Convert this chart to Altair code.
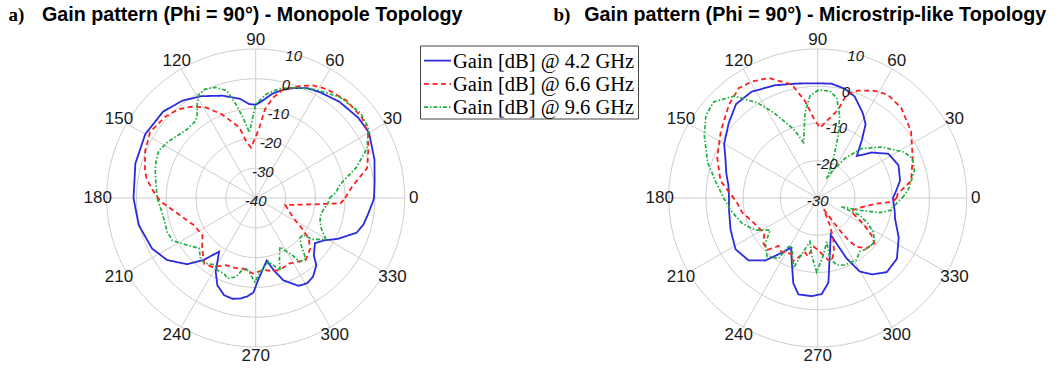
import altair as alt
import pandas as pd

# ---------------------------------------------------------------------------
# Gain patterns (Phi = 90 deg): angle in degrees, gain in dB, in tracing order
# ---------------------------------------------------------------------------
SERIES = ["Gain [dB] @ 4.2 GHz", "Gain [dB] @ 6.6 GHz", "Gain [dB] @ 9.6 GHz"]

# a) Monopole topology
MONO_42_ANG = [0, 8, 18, 30, 38, 49, 59, 65, 71, 76, 81, 86, 90, 94, 99, 108, 118, 127, 137, 150,
               164, 180, 193, 206, 215, 224, 230, 235.7, 241.6, 246.3, 252, 257, 261, 265, 268.6,
               272, 280, 283.8, 288.5, 296, 301, 306, 312, 315.4, 322.6, 328.2, 333.6, 341, 346,
               351.3, 358, 360]
MONO_42_DB = [-0.3, 0.3, 1.9, 3.9, 3.7, 2.8, 1.5, 0.7, -1.0, -2.6, -4.6, -7.3, -8.7, -8.4, -6.3,
              -3.9, -1.3, 0.9, 2.5, 2.8, 2.0, 1.0, 0.3, -1.3, -3.7, -8.0, -12.9, -18.2, -11.8, -8.0,
              -5.7, -5.3, -5.8, -6.8, -8.3, -12.8, -18.7, -15.2, -10.9, -7.2, -6.6, -7.3, -9.6,
              -12.6, -15.0, -13.0, -9.2, -4.2, -2.8, -2.0, -0.7, -0.3]

MONO_66_ANG = [0, 7, 15, 24, 30, 37, 47, 57, 63, 69, 76, 80, 84, 87, 90, 95.4, 99.7, 103, 112, 119,
               125, 131, 138, 148, 157, 165, 170, 176, 182, 192, 204, 215, 223, 232, 238, 246, 253,
               260, 268, 276, 282, 288, 297, 303, 308.5, 317, 322.6, 326.6, 331.7, 346.6, 353.8,
               356.4, 360]
MONO_66_DB = [-10, -7.3, -1.3, 1.4, 3.5, 4.7, 4.7, 3.6, 2.4, 0.2, -2.6, -5.7, -10, -16.3, -19.5,
              -23, -20.6, -15.7, -9.7, -5.2, -2.6, -0.5, 0.8, 1.8, 0.3, -1.5, -2.8, -5.5, -8,
              -13.6, -17.4, -18.2, -15.4, -12, -12.7, -15.3, -15.5, -15.9, -14.6, -15.7, -15.0,
              -14.5, -15.3, -14.5, -13.2, -15.0, -17.6, -21.4, -25.5, -29.8, -20.4, -11.5, -10]

MONO_96_ANG = [0, 4, 9, 17, 24, 32, 39, 50, 61, 70, 78, 84, 90, 91.5, 95.5, 99, 102, 105, 110, 115,
               119, 122, 126, 129, 135, 141, 147, 154, 160, 165, 172, 180, 187, 193, 201, 207,
               214.5, 221.6, 228.4, 232.6, 239, 242, 247.3, 250.7, 255.9, 261, 265, 269.5, 273.3,
               277, 281.6, 288.5, 291, 296.3, 302.7, 304.5, 309.5, 314.3, 318, 322, 324, 329.5,
               335, 340, 345, 350, 355, 360]
MONO_96_DB = [-15.2, -13, -11.4, -4.6, 0.9, 4.6, 5.3, 4.1, 1.6, -0.6, -2.5, -4.9, -8.5, -11.9,
              -17.9, -12.6, -7.8, -2.7, -0.5, 0.3, -0.5, -2.9, -6.5, -7.3, -7.4, -6.5, -5.1, -3.8,
              -4.4, -5.1, -6.2, -6.9, -8.0, -8.4, -8.2, -8.6, -12.1, -14.6, -12.2, -12.4, -13.8,
              -12.6, -12.5, -11.4, -12.7, -16.5, -15.0, -11.8, -15.1, -16.5, -18.3, -14.3, -17.8,
              -21.7, -17.2, -14.0, -13.6, -18.3, -20.0, -19.9, -16.4, -12.7, -15.7, -17.0, -17.5,
              -17.0, -15.8, -15.2]

# b) Microstrip-like topology
MICRO_42_ANG = [0, 6, 12, 22, 32, 40, 47, 52.5, 57, 62, 70, 76, 83, 90, 100, 111, 122, 131, 140,
                150, 157, 165, 172, 180, 187, 200, 212, 222, 230, 236.7, 241.8, 247, 254, 258.7,
                266.5, 272.4, 277.2, 289.5, 295.5, 299.7, 305.5, 313, 322.5, 334, 345, 350, 360]
MICRO_42_DB = [-9.8, -8.7, -7.4, -6.6, -7.6, -11, -14.6, -10.6, -6.4, -4.2, -1, 0.2, 0.9, 0.8, 1.2,
               2.4, 3.6, 3.4, 1.2, -1, -3.1, -4.6, -5.8, -6.2, -6.0, -5.1, -4, -5, -8.1, -12.4,
               -14.9, -12.1, -6.2, -3.6, -3.6, -4.2, -7.1, -19.5, -12.1, -7.3, -4.8, -2.8, -3.2,
               -5.8, -8.5, -9.0, -9.8]

MICRO_66_ANG = [0, 3, 10.4, 23, 35.6, 47.2, 55.8, 62, 69.4, 74.4, 76.9, 82.3, 88.1, 93, 97.4,
                102.8, 112.2, 119.4, 125.6, 133.5, 145.4, 158, 170, 174.4, 183.3, 191, 201.3,
                213.5, 220, 225.8, 230.8, 235.4, 245.3, 248.4, 257, 260.4, 265, 270, 279.4, 282.5,
                287, 291, 294, 298, 301, 304, 306, 308.5, 314, 321.4, 325.4, 330.6, 336, 340, 349,
                354.5, 357, 360]
MICRO_66_DB = [-8.8, -8.5, -4.5, -2.3, 0.8, 3.0, 3.5, 2.6, 0.8, -1.2, -5.6, -8.7, -11.1, -8.5,
               -3.8, 1.2, 4.8, 5.9, 6.3, 4.6, 1.6, -0.9, -3.5, -5.5, -8.3, -9.4, -11.6, -12.8, -11,
               -10.6, -13.4, -12.6, -13.4, -11.7, -15, -14.1, -16.9, -16.1, -13.2, -12.7, -15,
               -18.4, -22, -26.5, -25, -20.1, -16, -13.3, -11.2, -10.5, -12.5, -16, -19.5, -20.3,
               -17.6, -14.2, -10, -8.8]

MICRO_96_ANG = [0, 4.8, 9.8, 16, 22.5, 27.9, 38.7, 48.5, 55.5, 62, 65, 68.2, 71.7, 75, 79.3, 83.5,
                89.6, 94.3, 98.4, 104.3, 109.3, 117.3, 122.4, 129.4, 137.3, 143.6, 151, 162, 171,
                180.6, 188, 198.7, 207.3, 214.1, 220.9, 229.2, 237.1, 239.1, 242, 251, 253.3, 260,
                264, 269.2, 275.7, 281.6, 281.5, 285.8, 292, 302, 308, 315, 322.5, 328.6, 333.1,
                337.8, 339.4, 343.8, 346.7, 350.6, 357.2, 360]
MICRO_96_DB = [-7.3, -5.7, -4.6, -3.0, -2.4, -3.7, -8.1, -12.3, -17.1, -22, -24.3, -18.7, -12.4,
               -7.2, -2.6, -1.1, -1, -2.5, -6.8, -14.6, -10.4, -4.2, 0.3, 5.4, 8.0, 7.3, 4.8, 1.1,
               -2.3, -4.9, -6.4, -8.6, -11.2, -14.6, -11.4, -9.2, -10.7, -14.8, -15.2, -10.1,
               -13.6, -18.1, -14.6, -10.1, -14.6, -18, -13.5, -11.3, -10.6, -10.4, -11.7, -10.9,
               -10.7, -12.6, -14.9, -17.8, -23.2, -18.2, -12.9, -10, -8.5, -7.3]

# Axis annotations
SPOKE_ANGLES = [0, 30, 60, 90, 120, 150, 180, 210, 240, 270, 300, 330]
MONO_RINGS = [-40, -30, -20, -10, 0, 10]
MICRO_RINGS = [-30, -20, -10, 0, 10]

# Styling
COLORS = ["#2a2ae0", "#ff1e1e", "#1fae3e"]
DASHES = [[1, 0], [5, 3.5], [4, 2, 1.5, 2]]
WIDTHS = [1.8, 1.8, 1.7]
GRID = "#cdcdcd"
SANS = "Liberation Sans"
SERIF = "Liberation Serif"
R_PX = 149          # outer ring radius in pixels
H = 372


def polar(chart, rmin, rmax):
    """Map (angle, gain) to Cartesian coordinates on a unit outer ring."""
    return chart.transform_calculate(
        rn=f"(datum.gain - ({rmin})) / {rmax - rmin}",
    ).transform_calculate(
        x="datum.rn * cos(datum.angle * PI / 180)",
        y="datum.rn * sin(datum.angle * PI / 180)",
    )


def panel(tag, title, angs, dbs, rings, cx, cy, width, tag_x, title_x, legend=False):
    rmin, rmax = rings[0], rings[-1]
    xs = alt.Scale(domain=[-cx / R_PX, (width - cx) / R_PX], nice=False, zero=False)
    ys = alt.Scale(domain=[-(H - cy) / R_PX, cy / R_PX], nice=False, zero=False)
    X = alt.X("x:Q", scale=xs, axis=None)
    Y = alt.Y("y:Q", scale=ys, axis=None)

    # concentric dB rings
    ring_df = pd.DataFrame(
        [{"gain": lv, "angle": a} for lv in rings[1:] for a in range(0, 361, 2)]
    )
    ring_layer = polar(alt.Chart(ring_df), rmin, rmax).mark_line(
        color=GRID, strokeWidth=1
    ).encode(x=X, y=Y, detail="gain:N", order="angle:Q")

    # angular spokes
    spoke_df = pd.DataFrame(
        [{"angle": a, "gain": g, "k": i} for a in SPOKE_ANGLES for i, g in enumerate([rmin, rmax])]
    )
    spoke_layer = polar(alt.Chart(spoke_df), rmin, rmax).mark_line(
        color=GRID, strokeWidth=1
    ).encode(x=X, y=Y, detail="angle:N", order="k:Q")

    # gain curves
    curve_layers = []
    for name, a, d, c, dash, w in zip(SERIES, angs, dbs, COLORS, DASHES, WIDTHS):
        df = pd.DataFrame({"angle": a, "gain": d, "seq": range(len(a)), "series": name})
        curve_layers.append(
            polar(alt.Chart(df), rmin, rmax).mark_line(
                color=c, strokeDash=dash, strokeWidth=w
            ).encode(x=X, y=Y, order="seq:Q")
        )

    # angle labels around the outer ring
    ang_df = pd.DataFrame({"angle": SPOKE_ANGLES, "label": [str(a) for a in SPOKE_ANGLES]})
    ang_layer = alt.Chart(ang_df).transform_calculate(
        x="1.06 * cos(datum.angle * PI / 180)",
        y="1.06 * sin(datum.angle * PI / 180)",
    ).mark_text(font=SANS, fontSize=17, color="#1a1a1a", align="center", baseline="middle").encode(
        x=X, y=Y, text="label:N"
    )

    # dB labels along the ring scale
    lvl_df = pd.DataFrame({"gain": rings, "label": [str(v) for v in rings]})
    lvl_layer = alt.Chart(lvl_df).transform_calculate(
        rn=f"max(0, (datum.gain - ({rmin})) / {rmax - rmin} - 0.016)",
    ).transform_calculate(
        x="datum.rn * cos(75 * PI / 180)",
        y="datum.rn * sin(75 * PI / 180) - (datum.rn == 0 ? 0.02 : 0)",
    ).mark_text(font=SANS, fontSize=15, fontStyle="italic", color="#1a1a1a",
                align="center", baseline="middle").encode(x=X, y=Y, text="label:N")

    # panel heading
    tag_layer = alt.Chart(pd.DataFrame({"t": [tag]})).mark_text(
        font=SERIF, fontSize=19, fontWeight="bold", align="left", baseline="alphabetic",
        color="black"
    ).encode(x=alt.value(tag_x), y=alt.value(21), text="t:N")
    title_layer = alt.Chart(pd.DataFrame({"t": [title]})).mark_text(
        font=SANS, fontSize=19.7, fontWeight="bold", align="left", baseline="alphabetic",
        color="black"
    ).encode(x=alt.value(title_x), y=alt.value(21), text="t:N")

    layers = [ring_layer, spoke_layer] + curve_layers + [ang_layer, lvl_layer, tag_layer, title_layer]

    if legend:
        box = alt.Chart(pd.DataFrame({"k": [0]})).mark_rect(
            fill="white", stroke="#444444", strokeWidth=1
        ).encode(x=alt.value(420.5), x2=alt.value(638.5), y=alt.value(46), y2=alt.value(119))
        layers.append(box)
        for i, (name, c, dash, w) in enumerate(zip(SERIES, COLORS, DASHES, WIDTHS)):
            row = pd.DataFrame({"series": [name]})
            layers.append(
                alt.Chart(row).mark_rule(color=c, strokeDash=dash, strokeWidth=w).encode(
                    x=alt.value(424), x2=alt.value(451), y=alt.value(60.7 + 23.2 * i)
                )
            )
            layers.append(
                alt.Chart(row).mark_text(
                    font=SERIF, fontSize=20.5, align="left", baseline="alphabetic", color="black"
                ).encode(x=alt.value(453), y=alt.value(68.3 + 22.9 * i), text="series:N")
            )

    return alt.layer(*layers).properties(width=width, height=H)


left = panel("a)", "Gain pattern (Phi = 90°) - Monopole Topology",
             [MONO_42_ANG, MONO_66_ANG, MONO_96_ANG], [MONO_42_DB, MONO_66_DB, MONO_96_DB],
             MONO_RINGS, cx=255.7, cy=198, width=530, tag_x=8.5, title_x=42, legend=True)
right = panel("b)", "Gain pattern (Phi = 90°) - Microstrip-like Topology",
              [MICRO_42_ANG, MICRO_66_ANG, MICRO_96_ANG], [MICRO_42_DB, MICRO_66_DB, MICRO_96_DB],
              MICRO_RINGS, cx=287.7, cy=198, width=531, tag_x=23.5, title_x=54.2)

chart = alt.hconcat(left, right, spacing=0, bounds="flush").properties(
    padding=0, background="white"
).configure_view(stroke=None)

chart.save("out.html", embed_options={"renderer": "svg", "actions": False})
